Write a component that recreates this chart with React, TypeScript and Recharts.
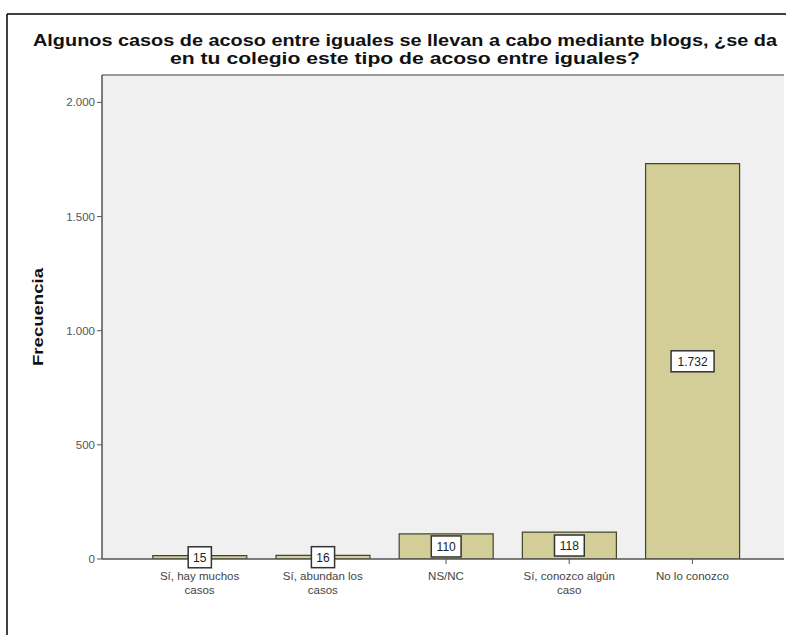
import { BarChart, Bar, XAxis, YAxis, CartesianGrid, LabelList, ReferenceLine } from 'recharts';

const categories = [
    'Sí, hay muchos casos',
    'Sí, abundan los casos',
    'NS/NC',
    'Sí, conozco algún caso',
    'No lo conozco'
];
const tickLines = [
    ['Sí, hay muchos', 'casos'],
    ['Sí, abundan los', 'casos'],
    ['NS/NC'],
    ['Sí, conozco algún', 'caso'],
    ['No lo conozco']
];
const frecuencias = [15, 16, 110, 118, 1732];
const yTicks = [0, 500, 1000, 1500, 2000];
const titleLines = [
    'Algunos casos de acoso entre iguales se llevan a cabo mediante blogs, ¿se da',
    'en tu colegio este tipo de acoso entre iguales?'
];

const data = categories.map((cat, i) => ({ cat, value: frecuencias[i] }));

const FONT = '"Liberation Sans", Arial, sans-serif';
const fmt = (v: number) => String(v).replace(/\B(?=(\d{3})+(?!\d))/g, '.');

const XTick = ({ x, y, payload }: any) => {
    const lines = tickLines[payload.index] || [payload.value];
    return (
        <text x={x} y={y + 14} textAnchor="middle" fontSize={11.5} fill="#444" fontFamily={FONT}>
            {lines.map((l: string, i: number) => (
                <tspan key={i} x={x} dy={i === 0 ? 0 : 14}>{l}</tspan>
            ))}
        </text>
    );
};

const ValueBox = ({ x, y, width, height, value }: any) => {
    const cx = x + width / 2;
    const cy = y + height / 2;
    const txt = fmt(value);
    const w = txt.length * 6.6 + 10;
    return (
        <g>
            <rect x={cx - w / 2} y={cy - 10.5} width={w} height={21} fill="#fff" stroke="#333" strokeWidth={1.5} />
            <text x={cx} y={cy + 4.5} textAnchor="middle" fontSize={12} fill="#222" fontFamily={FONT}>{txt}</text>
        </g>
    );
};

export default function App() {
    return (
        <div style={{ position: 'absolute', left: 0, top: 0, width: 786, height: 635, background: '#fff' }}>
            <BarChart
                width={786}
                height={635}
                data={data}
                margin={{ top: 75, right: 2, bottom: 36, left: 42 }}
                barCategoryGap="12%"
            >
                <CartesianGrid fill="#F0F0F0" horizontal={false} vertical={false} stroke="none" />
                <ReferenceLine y={2120} stroke="#9a9a9a" strokeWidth={2} />
                <XAxis
                    dataKey="cat"
                    height={40}
                    padding={{ left: 36, right: 30 }}
                    tick={<XTick />}
                    tickSize={5}
                    tickLine={{ stroke: '#555' }}
                    axisLine={{ stroke: '#555', strokeWidth: 1.5 }}
                    interval={0}
                />
                <YAxis
                    width={60}
                    domain={[0, 2120]}
                    ticks={yTicks}
                    tickFormatter={fmt}
                    tickSize={5}
                    tick={{ fontSize: 11.5, fill: '#555', fontFamily: FONT }}
                    tickLine={{ stroke: '#555' }}
                    axisLine={{ stroke: '#555', strokeWidth: 1.5 }}
                    allowDataOverflow
                />
                <Bar dataKey="value" fill="#D3CE97" stroke="#45452e" strokeWidth={1.2} isAnimationActive={false}>
                    <LabelList dataKey="value" content={<ValueBox />} />
                </Bar>
            </BarChart>
            <svg width={786} height={635} style={{ position: 'absolute', left: 0, top: 0, pointerEvents: 'none' }}>
                <line x1={7} y1={14} x2={786} y2={14} stroke="#000" strokeWidth={1.5} />
                <line x1={7} y1={14} x2={7} y2={635} stroke="#000" strokeWidth={1.5} />
                <text x={405} y={46} textAnchor="middle" fontSize={16} fontWeight="bold" fontFamily={FONT} fill="#111" textLength={744} lengthAdjust="spacingAndGlyphs">{titleLines[0]}</text>
                <text x={405} y={64} textAnchor="middle" fontSize={16} fontWeight="bold" fontFamily={FONT} fill="#111" textLength={470} lengthAdjust="spacingAndGlyphs">{titleLines[1]}</text>
                <text x={0} y={0} transform="translate(43 317) rotate(-90)" textAnchor="middle" fontSize={15} fontWeight="bold" fontFamily={FONT} fill="#111" textLength={98} lengthAdjust="spacingAndGlyphs">Frecuencia</text>
            </svg>
        </div>
    );
}
